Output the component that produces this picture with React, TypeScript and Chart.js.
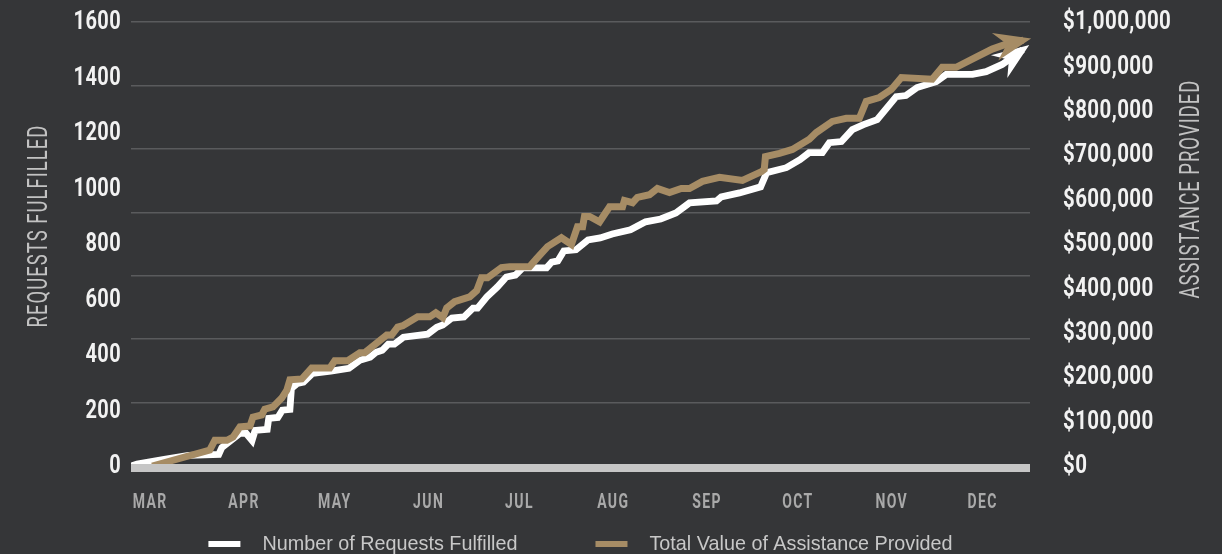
import { useEffect, useRef } from "react";
import { Chart, registerables } from "chart.js";

Chart.register(...registerables);

// ---- data ----
const MONTHS = ["MAR", "APR", "MAY", "JUN", "JUL", "AUG", "SEP", "OCT", "NOV", "DEC"];
// day offsets (from Mar 1) where each month label sits
const MONTH_TICK_DAYS = [6, 37, 67, 98, 128, 159, 190, 220, 251, 281];

const REQUEST_DAYS = [
  0, 2, 11, 19, 29, 30, 36, 38, 40, 41, 45, 45.5, 48.5, 50, 52.5, 53, 55, 57, 60, 66, 72, 75.6, 79, 81, 83, 85, 87, 90,
  98, 101, 103, 106, 110, 113, 114.5, 117.5, 121, 124, 127, 129.4, 137.3, 139, 141, 143, 147, 151, 155, 159, 165, 170,
  175, 180, 184.5, 193.4, 195, 201, 208, 210, 216.5, 221, 224, 228.4, 230.7, 234.7, 238.3, 242, 246.5, 252.8, 256,
  259.7, 266, 269.3, 278, 282.5, 287.8, 294.6,
];
const REQUEST_VALUES = [
  0, 7, 24, 38, 42, 66, 118, 118, 92, 128, 132, 172, 175, 201, 204, 280, 298, 302, 334, 342, 352, 381, 392, 410, 417,
  439, 439, 464, 475, 500, 508, 533, 537, 569, 569, 609, 645, 681, 688, 714, 714, 735, 739, 775, 779, 815, 822, 836,
  851, 880, 890, 912, 948, 955, 970, 984, 1006, 1057, 1075, 1104, 1129, 1129, 1165, 1169, 1212, 1230, 1248, 1331,
  1335, 1364, 1385, 1411, 1411, 1421, 1447, 1500,
];

const ASSIST_DAYS = [
  7, 26, 27.7, 31.7, 33.7, 36, 39.3, 40.3, 43.2, 44.2, 46.9, 49.8, 51.5, 52.5, 56.4, 59.7, 65.7, 67.3, 71.6, 75.6, 77.2,
  81.2, 84.5, 86.1, 88.1, 89.8, 94.7, 98.7, 100.7, 103, 104.3, 106.9, 111.9, 114.2, 115.8, 117.8, 122.4, 125.1, 131.7,
  134, 137.6, 142.2, 145.5, 147.5, 149.2, 149.8, 151.5, 154.8, 158.1, 162.4, 163, 165.7, 167.3, 171.3, 173.9, 177.9,
  181.8, 184.5, 188.8, 194.4, 202, 208.3, 209.2, 209.6, 214.2, 218.5, 224.1, 226.4, 231.7, 236.3, 240.6, 242.9, 247.2,
  251.2, 254.5, 264.7, 268, 272.6, 279.2, 284.5, 289.1, 294.8,
];
const ASSIST_VALUES = [
  0, 36000, 58000, 58000, 65000, 88000, 90000, 110000, 115000, 128000, 133000, 153000, 171000, 194000, 196000, 221000,
  221000, 237000, 237000, 255000, 255000, 277000, 295000, 295000, 313000, 316000, 336000, 336000, 345000, 334000,
  356000, 370000, 381000, 395000, 424000, 424000, 447000, 449000, 449000, 467000, 494000, 514000, 499000, 539000,
  539000, 562000, 562000, 550000, 584000, 584000, 598000, 593000, 605000, 611000, 625000, 616000, 625000, 625000,
  641000, 650000, 643000, 663000, 668000, 697000, 704000, 713000, 736000, 751000, 776000, 783000, 783000, 821000,
  830000, 848000, 875000, 871000, 898000, 898000, 921000, 939000, 950000, 959000,
];

const LEFT_TITLE = "REQUESTS FULFILLED";
const RIGHT_TITLE = "ASSISTANCE PROVIDED";
const SERIES_NAMES = ["Number of Requests Fulfilled", "Total Value of Assistance Provided"];

// ---- styles ----
const BG = "#353638";
const WHITE = "#ffffff";
const GOLD = "#a68c65";
const FONT = 'Roboto, "Liberation Sans", sans-serif';
const TOP = 22;

// Draws the scales' own tick labels with a condensed (horizontally squeezed) face
const tickLabelPlugin = {
  id: "condensedTicks",
  afterDraw(chart: any) {
    const { ctx } = chart;
    const put = (text: string, x: number, y: number, align: CanvasTextAlign, sx: number) => {
      ctx.save();
      ctx.translate(x, y);
      ctx.scale(sx, 1);
      ctx.textAlign = align;
      ctx.fillText(text, 0, 0);
      ctx.restore();
    };
    ctx.save();
    ctx.textBaseline = "middle";
    const y = chart.scales.y;
    ctx.fillStyle = "#f2f2f2";
    ctx.font = `bold 25px ${FONT}`;
    (ctx as any).letterSpacing = "0.5px";
    y.ticks.forEach((t: any, i: number) => put(String(t.label), y.right - 10, y.getPixelForTick(i) + 1, "right", 0.8));
    const y1 = chart.scales.y1;
    y1.ticks.forEach((t: any, i: number) =>
      put(String(t.label), y1.left + 33, y1.getPixelForTick(i) + 1, "left", 0.82)
    );
    const x = chart.scales.x;
    ctx.fillStyle = "#a9a9a9";
    ctx.font = `bold 20px ${FONT}`;
    (ctx as any).letterSpacing = "2px";
    x.ticks.forEach((t: any, i: number) => put(String(t.label), x.getPixelForTick(i) + 1, x.top + 37, "center", 0.7));
    ctx.restore();
  },
};

const arrowPlugin = {
  id: "arrowHeads",
  afterDatasetsDraw(chart: any) {
    const { ctx } = chart;
    for (const i of [0, 1]) {
      const pts = chart.getDatasetMeta(i).data;
      if (!pts || pts.length < 2) continue;
      const a = pts[pts.length - 2];
      const b = pts[pts.length - 1];
      const dx = b.x - a.x;
      const dy = b.y - a.y;
      const len = Math.hypot(dx, dy) || 1;
      const ux = dx / len;
      const uy = dy / len;
      const nx = -uy;
      const ny = ux;
      const tipX = b.x + ux * 8;
      const tipY = b.y + uy * 8;
      const L = 37;
      const W = 14;
      const notch = 12;
      ctx.save();
      ctx.fillStyle = chart.data.datasets[i].borderColor;
      ctx.beginPath();
      ctx.moveTo(tipX, tipY);
      ctx.lineTo(tipX - ux * L + nx * W, tipY - uy * L + ny * W);
      ctx.lineTo(tipX - ux * (L - notch), tipY - uy * (L - notch));
      ctx.lineTo(tipX - ux * L - nx * W, tipY - uy * L - ny * W);
      ctx.closePath();
      ctx.fill();
      ctx.restore();
    }
    const { chartArea } = chart;
    ctx.save();
    ctx.fillStyle = "#c6c6c6";
    ctx.fillRect(chartArea.left, chartArea.bottom - 2, chartArea.right - chartArea.left, 8);
    ctx.restore();
  },
};

const decorPlugin = {
  id: "decor",
  afterDraw(chart: any) {
    const { ctx, chartArea } = chart;
    ctx.save();
    ctx.fillStyle = "#c2c2c2";
    ctx.font = `27px ${FONT}`;
    (ctx as any).letterSpacing = "1.5px";
    ctx.textAlign = "center";
    ctx.textBaseline = "middle";
    const drawV = (text: string, x: number, y: number, len: number) => {
      const w = ctx.measureText(text).width;
      ctx.save();
      ctx.translate(x, y);
      ctx.rotate(-Math.PI / 2);
      ctx.scale(len / w, 1);
      ctx.fillText(text, 0, 0);
      ctx.restore();
    };
    drawV(LEFT_TITLE, chartArea.left - 91, chartArea.top + 204, 203);
    drawV(RIGHT_TITLE, chartArea.right + 162, chartArea.top + 167, 219);
    (ctx as any).letterSpacing = "0px";

    // legend
    ctx.font = '19.8px "Liberation Sans", Arial, Helvetica, sans-serif';
    ctx.textAlign = "left";
    const sw = 32;
    const gap = 22;
    const itemGap = 78;
    const widths = SERIES_NAMES.map((t) => ctx.measureText(t).width);
    const total = widths.reduce((s, w) => s + sw + gap + w, 0) + itemGap * (SERIES_NAMES.length - 1);
    let x = (chartArea.left + chartArea.right) / 2 - total / 2;
    const y = 544;
    SERIES_NAMES.forEach((t, i) => {
      ctx.fillStyle = chart.data.datasets[i].borderColor;
      ctx.fillRect(x, y - 3, sw, 6);
      x += sw + gap;
      ctx.fillStyle = "#c8c8c8";
      ctx.fillText(t, x, y + 1);
      x += widths[i] + itemGap;
    });
    ctx.restore();
  },
};

export default function App() {
  const ref = useRef<HTMLCanvasElement>(null);

  useEffect(() => {
    document.body.style.margin = "0";
    const requests = REQUEST_DAYS.map((d, i) => ({ x: d, y: REQUEST_VALUES[i] }));
    const assist = ASSIST_DAYS.map((d, i) => ({ x: d, y: ASSIST_VALUES[i] }));
    const padding = { top: TOP, left: 0, right: 0, bottom: 0 };

    const chart = new Chart(ref.current!, {
      type: "line",
      data: {
        datasets: [
          {
            label: SERIES_NAMES[0],
            data: requests,
            yAxisID: "y",
            borderColor: WHITE,
            backgroundColor: WHITE,
            borderWidth: 6.8,
            pointRadius: 0,
            tension: 0,
            borderJoinStyle: "miter",
            borderCapStyle: "butt",
            order: 1,
          },
          {
            label: SERIES_NAMES[1],
            data: assist,
            yAxisID: "y1",
            borderColor: GOLD,
            backgroundColor: GOLD,
            borderWidth: 7,
            pointRadius: 0,
            tension: 0,
            borderJoinStyle: "miter",
            borderCapStyle: "butt",
            order: 0,
          },
        ],
      },
      options: {
        animation: false,
        responsive: true,
        maintainAspectRatio: false,
        layout: { padding },
        plugins: { legend: { display: false }, tooltip: { enabled: false } },
        scales: {
          x: {
            type: "linear",
            min: 0,
            max: 297,
            afterBuildTicks: (s: any) => {
              s.ticks = MONTH_TICK_DAYS.map((v) => ({ value: v }));
            },
            ticks: {
              display: false,
              callback: (_v: any, i: number) => MONTHS[i] ?? "",
              autoSkip: false,
            },
            grid: { display: false, drawTicks: false },
            border: { display: false },
            afterFit: (s: any) => {
              s.height = 88;
            },
          },
          grid: {
            type: "linear",
            position: "left",
            min: 0,
            max: 7,
            ticks: { display: false, stepSize: 1 },
            grid: { color: "#5a5b5d", lineWidth: 1.5, drawTicks: false },
            border: { display: false },
            afterFit: (s: any) => {
              s.width = 0;
            },
          },
          y: {
            type: "linear",
            position: "left",
            min: 0,
            max: 1600,
            ticks: { display: false, stepSize: 200, callback: (v: any) => String(v) },
            grid: { display: false, drawTicks: false },
            border: { display: false },
            afterFit: (s: any) => {
              s.width = 131;
            },
          },
          y1: {
            type: "linear",
            position: "right",
            min: 0,
            max: 1000000,
            ticks: {
              display: false,
              stepSize: 100000,
              callback: (v: any) => "$" + Number(v).toLocaleString("en-US"),
            },
            grid: { display: false, drawTicks: false },
            border: { display: false },
            afterFit: (s: any) => {
              s.width = 192;
            },
          },
        },
      },
      plugins: [arrowPlugin, tickLabelPlugin, decorPlugin],
    });
    const dt = chart.chartArea.top - TOP;
    if (Math.abs(dt) > 0.5) {
      padding.top = padding.top - dt;
      chart.update();
    }
    return () => chart.destroy();
  }, []);

  return (
    <div style={{ position: "fixed", left: 0, top: 0, width: 1222, height: 554, background: BG }}>
      <canvas ref={ref} />
    </div>
  );
}
